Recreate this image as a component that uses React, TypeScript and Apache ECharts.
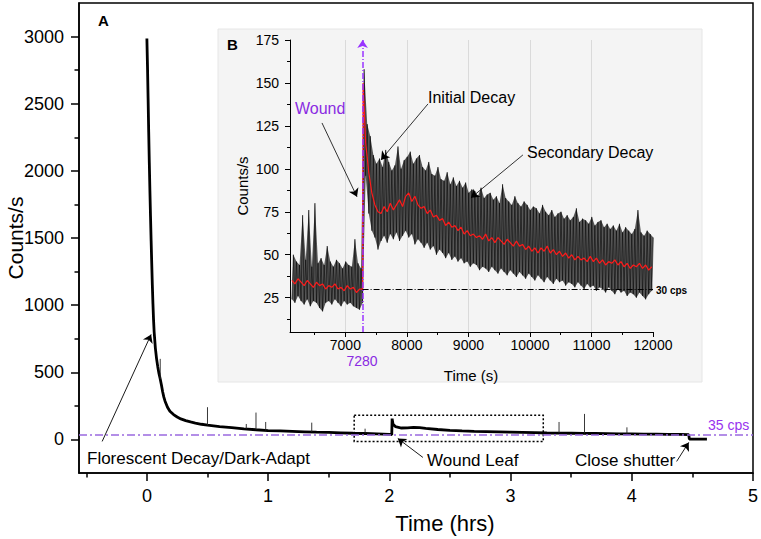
import { useEffect, useRef } from "react";
import * as echarts from "echarts";

// ---------- Main panel (A) data: time in hours, counts per second ----------
const mainTimeHrs = [0, 0.005, 0.01, 0.015, 0.02, 0.025, 0.03, 0.035, 0.04, 0.045, 0.05, 0.055, 0.06, 0.07, 0.08, 0.09, 0.1, 0.11, 0.12, 0.13, 0.14, 0.15, 0.17, 0.19, 0.22, 0.25, 0.28, 0.32, 0.36, 0.4, 0.45, 0.5, 0.55, 0.6, 0.7, 0.8, 0.9, 1.0, 1.1, 1.2, 1.3, 1.4, 1.5, 1.6, 1.7, 1.8, 1.9, 2.0, 2.02, 2.023, 2.03, 2.05, 2.1, 2.15, 2.2, 2.25, 2.3, 2.4, 2.5, 2.6, 2.7, 2.8, 2.9, 3.0, 3.1, 3.2, 3.3, 3.4, 3.5, 3.6, 3.7, 3.8, 3.9, 4.0, 4.1, 4.2, 4.3, 4.4, 4.47, 4.475, 4.62];
const mainCounts = [2985, 2780, 2540, 2290, 2060, 1850, 1660, 1480, 1310, 1150, 1010, 890, 800, 680, 600, 540, 490, 450, 405, 355, 315, 285, 240, 210, 185, 167, 153, 140, 130, 122, 113, 106, 101, 96, 88, 79, 72, 66, 63, 60, 57, 54, 52, 49, 46, 44, 41, 38, 36, 155, 115, 95, 85, 86, 90, 88, 82, 74, 68, 63, 60, 58, 56, 54, 52, 50, 48, 47, 46, 45, 44, 43, 42, 41, 40, 39, 38, 37, 36, 2, 2];
const spikeTimeHrs = [0.11, 0.5, 0.82, 0.9, 0.98, 1.36, 1.8, 3.4, 3.61, 3.96];
const spikeBase = [450, 106, 79, 72, 66, 55, 44, 47, 45, 41];
const spikePeak = [600, 240, 115, 200, 130, 125, 80, 130, 190, 90];
const mainXTicks = [0, 1, 2, 3, 4, 5];
const mainXMinor = [-0.5, 0.5, 1.5, 2.5, 3.5, 4.5];
const mainYTicks = [0, 500, 1000, 1500, 2000, 2500, 3000];
const mainYMinor = [250, 750, 1250, 1750, 2250, 2750];
const baselineCps = 35;

// ---------- Inset (B) data: time in seconds, sampled every 50 s ----------
const insetStart = 6130;
const insetStep = 50;
// upper envelope of the raw trace
const insetHi = [
  50, 46, 44, 73, 47, 76, 43, 80, 45, 48, 44, 55, 46, 43, 47, 45, 42, 46, 44, 43, 59, 45, 42,
  158,
  126, 119, 108, 103, 106, 101, 111, 104, 99,
  102, 113, 100, 105, 107, 110, 103, 106, 108, 101,
  99, 104, 97, 96, 101, 94, 93, 98, 91, 95,
  90, 93, 89, 92, 86, 88, 87, 84, 89, 83,
  85, 86, 82, 84, 80, 91, 83, 81, 79, 84,
  80, 78, 81, 79, 76, 78, 77, 74, 79, 75,
  73, 76, 72, 74, 75, 71, 73, 70, 72, 77,
  69, 71, 70, 68, 72, 67, 69, 70, 66, 68,
  65, 67, 64, 68, 63, 66, 64, 62, 65, 76,
  63, 61, 64, 62, 60,
];
// lower envelope of the raw trace
const insetLo = [
  24, 22, 26, 23, 21, 24, 20, 23, 22, 19, 17, 22, 23, 21, 24, 22, 20, 23, 21, 22, 20, 19, 18,
  22,
  96, 74, 64, 60, 53, 58, 61, 57, 62,
  59, 63, 58, 61, 64, 60, 62, 56, 59, 57,
  54, 57, 53, 55, 50, 53, 51, 48, 51, 47,
  49, 46, 48, 45, 46, 43, 45, 44, 41, 43,
  42, 40, 43, 41, 39, 42, 40, 38, 41, 39,
  37, 40, 38, 36, 39, 37, 35, 38, 36, 34,
  37, 35, 33, 36, 34, 35, 32, 34, 33, 31,
  34, 32, 30, 33, 31, 32, 29, 31, 30, 28,
  31, 29, 27, 30, 28, 29, 26, 28, 27, 25,
  28, 26, 24, 27, 29,
];
// smoothed (red) trace
const insetRed = [
  35, 33, 36, 34, 32, 35, 33, 31, 34, 32, 33, 30, 32, 31, 33, 30, 31, 29, 32, 30, 31, 28, 30, 30,
  115, 98, 86, 79, 75, 74, 78, 75, 80, 76,
  79, 82, 78, 84, 86, 81, 84, 79, 77, 78,
  74, 76, 72, 73, 70, 71, 67, 69, 66, 67,
  64, 66, 62, 64, 61, 62, 60, 61, 59, 62,
  58, 60, 57, 60, 58, 56, 59, 57, 55, 58,
  55, 56, 53, 55, 52, 54, 51, 54, 52, 55,
  51, 53, 50, 52, 49, 51, 48, 50, 47, 49,
  47, 48, 46, 49, 46, 48, 45, 47, 44, 46,
  45, 47, 44, 46, 43, 45, 42, 44, 43, 45,
  42, 44, 41, 43,
];
const woundTime = 7280;
const woundPeakRed = 150;
const floorCps = 30;
const insetXTicks = [7000, 8000, 9000, 10000, 11000, 12000];
const insetXMinor = [6500, 7500, 8500, 9500, 10500, 11500];
const insetGridX = [7000, 8000, 9000, 10000, 11000];
const insetYTicks = [25, 50, 75, 100, 125, 150, 175];
const insetYMinor = [12.5, 37.5, 62.5, 87.5, 112.5, 137.5, 162.5];

const FONT = '"Liberation Sans", Arial, Helvetica, sans-serif';
const PURPLE = "#8a2be2";

function buildOption() {
  const mainData = mainTimeHrs.map((t, i) => [t, mainCounts[i]]);
  const spikeData: any[] = [];
  spikeTimeHrs.forEach((t, i) => {
    spikeData.push([t, spikeBase[i]], [t, spikePeak[i]], "-");
  });

  const half = insetStep / 2;
  const black: number[][] = [];
  insetHi.forEach((h, i) => {
    const t = insetStart + insetStep * i;
    black.push([t, insetLo[i]], [t + half, h]);
  });
  const upperEdge = insetHi.map((h, i) => [insetStart + insetStep * i + half, h]);
  const lowerEdge = insetLo.map((l, i) => [insetStart + insetStep * i, l]).reverse();
  const bandPts = [...upperEdge, ...lowerEdge];

  const red: number[][] = [];
  insetRed.forEach((v, i) => {
    const t = insetStart + insetStep * i;
    red.push([t, v]);
    if (t === woundTime) red.push([woundTime + 8, woundPeakRed]);
  });

  const tickStyle = { color: "#000", width: 1.5 };
  const thin = { color: "#000", width: 1 };
  const arrowLine = (a: number[], b: number[]) => [{ coord: a }, { coord: b }];

  const text = (t: string, x: number, y: number, size: number, opts: any = {}) => ({
    type: "text",
    x,
    y,
    z: 100,
    style: {
      text: t,
      fontSize: size,
      fontFamily: FONT,
      fontWeight: opts.bold ? "bold" : "normal",
      fill: opts.color || "#000",
      align: opts.align || "left",
      verticalAlign: "middle",
    },
  });

  return {
    animation: false,
    backgroundColor: "#fff",
    textStyle: { fontFamily: FONT },
    grid: [
      { left: 79, top: 3, width: 674, height: 470, show: true, borderColor: "#000", borderWidth: 1.5, backgroundColor: "transparent", outerBoundsMode: "none", containLabel: false },
      { left: 290, top: 40, width: 363, height: 292, outerBoundsMode: "none", containLabel: false },
    ],
    xAxis: [
      {
        gridIndex: 0, type: "value", min: -0.56, max: 5, position: "bottom",
        axisLine: { show: true, onZero: false, lineStyle: tickStyle },
        axisTick: { show: true, customValues: mainXTicks, length: 8, lineStyle: tickStyle },
        axisLabel: { customValues: mainXTicks, fontSize: 18, color: "#000", margin: 14, fontFamily: FONT, formatter: (v: number) => String(v) },
        splitLine: { show: false },
      },
      {
        gridIndex: 0, type: "value", min: -0.56, max: 5, position: "bottom",
        axisLine: { show: false, onZero: false },
        axisTick: { show: true, customValues: mainXMinor, length: 4.5, lineStyle: tickStyle },
        axisLabel: { show: false },
        splitLine: { show: false },
      },
      {
        gridIndex: 1, type: "value", min: 6100, max: 12000, position: "bottom",
        axisLine: { show: true, onZero: false, lineStyle: thin },
        axisTick: { show: true, customValues: insetXTicks, length: 5, lineStyle: thin },
        axisLabel: { customValues: insetXTicks, fontSize: 14, color: "#000", margin: 6, fontFamily: FONT, formatter: (v: number) => String(v) },
        splitLine: { show: false },
      },
      {
        gridIndex: 1, type: "value", min: 6100, max: 12000, position: "bottom",
        axisLine: { show: false, onZero: false },
        axisTick: { show: true, customValues: insetXMinor, length: 3, lineStyle: thin },
        axisLabel: { show: false },
        splitLine: { show: false },
      },
    ],
    yAxis: [
      {
        gridIndex: 0, type: "value", min: -250, max: 3250, position: "left",
        axisLine: { show: true, onZero: false, lineStyle: tickStyle },
        axisTick: { show: true, customValues: mainYTicks, length: 8, lineStyle: tickStyle },
        axisLabel: { customValues: mainYTicks, fontSize: 18, color: "#000", margin: 15, fontFamily: FONT, formatter: (v: number) => String(v) },
        splitLine: { show: false },
        name: "Counts/s", nameLocation: "middle", nameGap: 53, nameMoveOverlap: false,
        nameTextStyle: { fontSize: 21, color: "#000", fontFamily: FONT },
      },
      {
        gridIndex: 0, type: "value", min: -250, max: 3250, position: "left",
        axisLine: { show: false, onZero: false },
        axisTick: { show: true, customValues: mainYMinor, length: 4.5, lineStyle: tickStyle },
        axisLabel: { show: false },
        splitLine: { show: false },
      },
      {
        gridIndex: 1, type: "value", min: 5, max: 175, position: "left",
        axisLine: { show: true, onZero: false, lineStyle: thin },
        axisTick: { show: true, customValues: insetYTicks, length: 5, lineStyle: thin },
        axisLabel: { customValues: insetYTicks, fontSize: 14, color: "#000", margin: 11, fontFamily: FONT, formatter: (v: number) => String(v) },
        splitLine: { show: false },
        name: "Counts/s", nameLocation: "middle", nameGap: 40,
        nameTextStyle: { fontSize: 15, color: "#000", fontFamily: FONT },
      },
      {
        gridIndex: 1, type: "value", min: 5, max: 175, position: "left",
        axisLine: { show: false, onZero: false },
        axisTick: { show: true, customValues: insetYMinor, length: 3, lineStyle: thin },
        axisLabel: { show: false },
        splitLine: { show: false },
      },
    ],
    graphic: [
      { type: "rect", z: -1, shape: { x: 218, y: 29, width: 484, height: 353 }, style: { fill: "#f4f4f4", stroke: "#e6e6e6", lineWidth: 1 } },
      text("A", 98, 20, 15, { bold: true }),
      text("B", 227, 44, 15, { bold: true }),
      text("Florescent Decay/Dark-Adapt", 87, 458, 17),
      text("Wound Leaf", 427, 460, 17),
      text("Close shutter", 575, 460, 17),
      text("35 cps", 708, 425, 14, { color: "#9933ee" }),
      text("Time (hrs)", 445, 523, 22, { align: "center" }),
      text("Wound", 295, 108, 16, { color: PURPLE }),
      text("Initial Decay", 428, 97, 16),
      text("Secondary Decay", 527, 152, 16),
      text("30 cps", 656, 290, 10, { bold: true }),
      text("7280", 362, 361, 14, { color: PURPLE, align: "center" }),
      text("Time (s)", 471, 375, 15, { align: "center" }),
    ],
    series: [
      // main trace
      {
        type: "line", xAxisIndex: 0, yAxisIndex: 0, data: mainData, showSymbol: false, z: 3,
        lineStyle: { color: "#000", width: 2.8 }, silent: true,
        markArea: {
          silent: true, label: { show: false },
          itemStyle: { color: "rgba(0,0,0,0)", borderColor: "#000", borderWidth: 1.5, borderType: [2, 2] },
          data: [[{ coord: [1.71, 180] }, { coord: [3.27, -15] }]],
        },
        markLine: {
          silent: true, symbol: ["none", "arrow"], symbolSize: 8, label: { show: false },
          lineStyle: { color: "#000", width: 0.9, type: "solid" },
          emphasis: { disabled: true },
          data: [
            arrowLine([-0.369, -15], [0.035, 782]),
            arrowLine([2.277, -134], [2.07, 7]),
            arrowLine([4.37, -164], [4.47, -22]),
          ],
        },
      },
      {
        type: "line", xAxisIndex: 0, yAxisIndex: 0, data: spikeData, showSymbol: false, z: 3,
        lineStyle: { color: "#222", width: 0.9 }, silent: true,
      },
      // 35 cps baseline
      {
        type: "line", xAxisIndex: 0, yAxisIndex: 0, data: [], z: 4, silent: true,
        markLine: {
          silent: true, symbol: "none", label: { show: false },
          lineStyle: { color: "#9a6ae0", width: 1.5, type: [8, 3, 2, 3] },
          data: [{ yAxis: baselineCps }],
        },
      },
      // inset grid lines
      {
        type: "line", xAxisIndex: 2, yAxisIndex: 2, data: [[6100, -100]], showSymbol: false, z: 1, silent: true,
        markLine: {
          z: 1, silent: true, symbol: "none", label: { show: false },
          lineStyle: { color: "#dadada", width: 1, type: "solid" },
          data: insetGridX.map((x) => ({ xAxis: x })),
        },
      },
      // raw counts envelope band
      {
        type: "custom", xAxisIndex: 2, yAxisIndex: 2, data: [[6100, 5]], z: 2, silent: true,
        renderItem: (_params: any, api: any) => ({
          type: "polygon",
          shape: { points: bandPts.map((p) => api.coord(p)) },
          style: { fill: "rgba(20,20,20,0.7)", stroke: "none" },
        }),
      },
      // raw counts
      {
        type: "line", xAxisIndex: 2, yAxisIndex: 2, data: black, showSymbol: false, z: 2, silent: true,
        lineStyle: { color: "rgba(0,0,0,0.9)", width: 0.6 },
      },
      // smoothed
      {
        type: "line", xAxisIndex: 2, yAxisIndex: 2, data: red, showSymbol: false, z: 3, silent: true,
        lineStyle: { color: "#ff1a1a", width: 1.2 },
      },
      // inset annotations
      {
        type: "line", xAxisIndex: 2, yAxisIndex: 2, data: [], z: 4, silent: true,
        markLine: {
          silent: true, label: { show: false }, symbolSize: 8,
          emphasis: { disabled: true },
          data: [
            [
              { coord: [woundTime, 5], symbol: "none" },
              { coord: [woundTime, 175], symbol: "arrow", lineStyle: { color: "#9933ff", width: 1.5, type: [6, 2, 1, 2] } },
            ],
            [
              { coord: [woundTime, floorCps], symbol: "none" },
              { coord: [12000, floorCps], symbol: "none", lineStyle: { color: "#000", width: 1, type: [6, 2, 1, 2] } },
            ],
            [
              { coord: [12000 + 60, floorCps], symbol: "none" },
              { coord: [11930, floorCps], symbol: "arrow", lineStyle: { color: "#000", width: 1, type: "solid" } },
            ],
            [
              { coord: [6620, 126.7], symbol: "none" },
              { coord: [7189, 83.7], symbol: "arrow", lineStyle: { color: "#000", width: 0.8, type: "solid" } },
            ],
            [
              { coord: [8343, 137.8], symbol: "none" },
              { coord: [7579, 105.2], symbol: "arrow", lineStyle: { color: "#000", width: 0.8, type: "solid" } },
            ],
            [
              { coord: [9886, 108.1], symbol: "none" },
              { coord: [9041, 83.1], symbol: "arrow", lineStyle: { color: "#000", width: 0.8, type: "solid" } },
            ],
          ],
        },
      },
    ],
  };
}

export default function App() {
  const ref = useRef<HTMLDivElement>(null);
  useEffect(() => {
    if (!ref.current) return;
    const chart = echarts.init(ref.current, null, { renderer: "svg" });
    chart.setOption(buildOption() as any);
    return () => chart.dispose();
  }, []);
  return (
    <div
      ref={ref}
      style={{ position: "fixed", left: 0, top: 0, width: 761, height: 539, background: "#fff" }}
    />
  );
}
